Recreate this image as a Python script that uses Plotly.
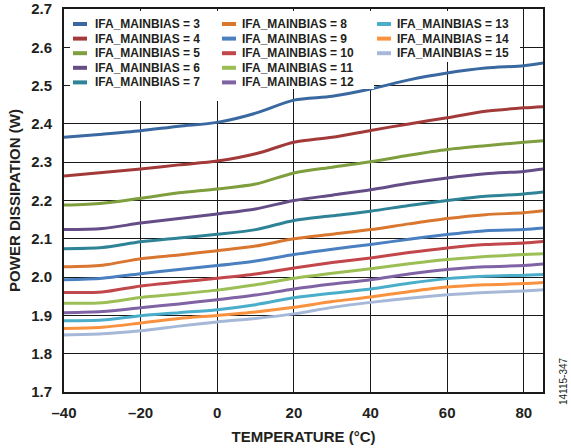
import plotly.graph_objects as go

# ---------------- data ----------------
temperature = [-40, -30, -20, -10, 0, 10, 20, 30, 40, 50, 60, 70, 80, 85]

bias_levels = [3, 4, 5, 6, 7, 8, 9, 10, 11, 12, 13, 14, 15]

p_bias3 = [2.365, 2.373, 2.382, 2.394, 2.404, 2.428, 2.462, 2.472, 2.491, 2.515, 2.533, 2.546, 2.552, 2.559]
p_bias4 = [2.264, 2.273, 2.282, 2.293, 2.303, 2.322, 2.352, 2.365, 2.383, 2.400, 2.416, 2.433, 2.442, 2.445]
p_bias5 = [2.188, 2.193, 2.206, 2.220, 2.230, 2.243, 2.272, 2.287, 2.301, 2.318, 2.333, 2.343, 2.352, 2.356]
p_bias6 = [2.124, 2.127, 2.141, 2.153, 2.165, 2.178, 2.200, 2.214, 2.228, 2.245, 2.259, 2.270, 2.276, 2.282]
p_bias7 = [2.074, 2.077, 2.092, 2.102, 2.112, 2.124, 2.148, 2.160, 2.172, 2.187, 2.200, 2.211, 2.217, 2.222]
p_bias8 = [2.027, 2.031, 2.048, 2.058, 2.069, 2.081, 2.100, 2.112, 2.124, 2.139, 2.153, 2.163, 2.168, 2.173]
p_bias9 = [1.993, 1.997, 2.009, 2.020, 2.030, 2.042, 2.059, 2.073, 2.085, 2.099, 2.111, 2.121, 2.124, 2.128]
p_bias10 = [1.960, 1.961, 1.977, 1.987, 1.997, 2.008, 2.024, 2.038, 2.050, 2.064, 2.076, 2.085, 2.089, 2.093]
p_bias11 = [1.932, 1.933, 1.947, 1.956, 1.966, 1.980, 1.997, 2.010, 2.022, 2.035, 2.046, 2.054, 2.059, 2.061]
p_bias12 = [1.907, 1.910, 1.920, 1.930, 1.941, 1.953, 1.969, 1.982, 1.993, 2.008, 2.020, 2.027, 2.030, 2.034]
p_bias13 = [1.886, 1.888, 1.899, 1.907, 1.915, 1.928, 1.946, 1.958, 1.969, 1.984, 1.996, 2.002, 2.005, 2.007]
p_bias14 = [1.866, 1.869, 1.880, 1.892, 1.900, 1.909, 1.921, 1.936, 1.948, 1.962, 1.974, 1.980, 1.983, 1.986]
p_bias15 = [1.849, 1.852, 1.860, 1.872, 1.883, 1.892, 1.904, 1.921, 1.934, 1.945, 1.954, 1.960, 1.964, 1.967]

power_series = [p_bias3, p_bias4, p_bias5, p_bias6, p_bias7, p_bias8, p_bias9,
                p_bias10, p_bias11, p_bias12, p_bias13, p_bias14, p_bias15]

colors = ["#3a68a0", "#a33a3a", "#7f9e3e", "#654d87", "#2e8396", "#d97730", "#4a7fc0",
          "#c2474a", "#9bbf55", "#8063a5", "#4aaecb", "#f9923f", "#a6b8d8"]

x_tickvals = [-40, -20, 0, 20, 40, 60, 80]
x_ticktext = ["\u201340", "\u201320", "0", "20", "40", "60", "80"]
y_tickvals = [1.7, 1.8, 1.9, 2.0, 2.1, 2.2, 2.3, 2.4, 2.5, 2.6, 2.7]
y_ticktext = ["1.7", "1.8", "1.9", "2.0", "2.1", "2.2", "2.3", "2.4", "2.5", "2.6", "2.7"]

# ---------------- layout geometry ----------------
W, H = 571, 448
ML, MR, MT, MB = 64, 28, 9, 56
PW, PH = W - ML - MR, H - MT - MB
FONT = "Liberation Sans, Arial, Helvetica, sans-serif"
INK = "#231f20"


def xp(px):
    return (px - ML) / PW


def yp(py):
    return (H - MB - py) / PH


fig = go.Figure()

for lvl, vals, col in zip(bias_levels, power_series, colors):
    fig.add_trace(go.Scatter(
        x=temperature, y=vals, mode="lines",
        name=f"IFA_MAINBIAS = {lvl}",
        line=dict(color=col, width=3, shape="spline", smoothing=0.8),
        showlegend=False,
    ))

# ---------------- legend (3 columns, column-major) ----------------
col_sample_x = [73, 222, 377]
col_text_x = [93, 240, 395]
row_y0, row_dy = 24, 14.6
col_sizes = [5, 5, 3]

shapes = []
annotations = []
# white backing behind legend columns (hides gridlines; kept clear of the curves)
for x0, x1, y1 in [(70, 224, 101), (224, 374, 89), (374, 520, 62)]:
    shapes.append(dict(type="rect", xref="paper", yref="paper", layer="above",
                       x0=xp(x0), x1=xp(x1), y0=yp(y1), y1=yp(11),
                       fillcolor="white", line=dict(width=0)))

k = 0
for c, n in enumerate(col_sizes):
    for r in range(n):
        lvl, col = bias_levels[k], colors[k]
        ypos = row_y0 + r * row_dy
        shapes.append(dict(type="line", xref="paper", yref="paper", layer="above",
                           x0=xp(col_sample_x[c]), x1=xp(col_sample_x[c] + 14),
                           y0=yp(ypos), y1=yp(ypos),
                           line=dict(color=col, width=4)))
        annotations.append(dict(xref="paper", yref="paper", x=xp(col_text_x[c]), y=yp(ypos),
                                xanchor="left", yanchor="middle", showarrow=False,
                                text=f"IFA_MAINBIAS = {lvl}",
                                font=dict(family=FONT, size=12, color=INK, weight="bold")))
        k += 1

annotations.append(dict(xref="paper", yref="paper", x=xp(563), y=yp(381),
                        xanchor="center", yanchor="middle", showarrow=False,
                        text="14115-347", textangle=-90,
                        font=dict(family=FONT, size=10, color=INK, weight="normal")))

fig.update_layout(
    width=W, height=H,
    margin=dict(l=ML, r=MR, t=MT, b=MB, autoexpand=False),
    paper_bgcolor="white", plot_bgcolor="white",
    font=dict(family=FONT, color=INK, weight="bold"),
    shapes=shapes, annotations=annotations,
    showlegend=False,
)

fig.update_xaxes(
    range=[-40, 85], tickvals=x_tickvals, ticktext=x_ticktext,
    showgrid=True, gridcolor="#1a1a1a", gridwidth=1,
    showline=True, linecolor="#1a1a1a", linewidth=2, mirror=True,
    zeroline=False, ticks="", ticklabelstandoff=6, automargin=False,
    tickfont=dict(family=FONT, size=15, color=INK, weight="bold"),
    title=dict(text="TEMPERATURE (°C)", standoff=11,
               font=dict(family=FONT, size=15, color=INK, weight="bold")),
)
fig.update_yaxes(
    range=[1.7, 2.7], tickvals=y_tickvals, ticktext=y_ticktext,
    showgrid=True, gridcolor="#1a1a1a", gridwidth=1,
    showline=True, linecolor="#1a1a1a", linewidth=2, mirror=True,
    zeroline=False, ticks="", ticklabelstandoff=7, automargin=False,
    tickfont=dict(family=FONT, size=15, color=INK, weight="bold"),
    title=dict(text="POWER DISSIPATION (W)", standoff=7,
               font=dict(family=FONT, size=15, color=INK, weight="bold")),
)

# remove the browser's default 8px page margin so the figure sits at the window origin
fig.write_html("out.html", config={"displayModeBar": False},
               post_script="document.body.style.margin='0px';")
